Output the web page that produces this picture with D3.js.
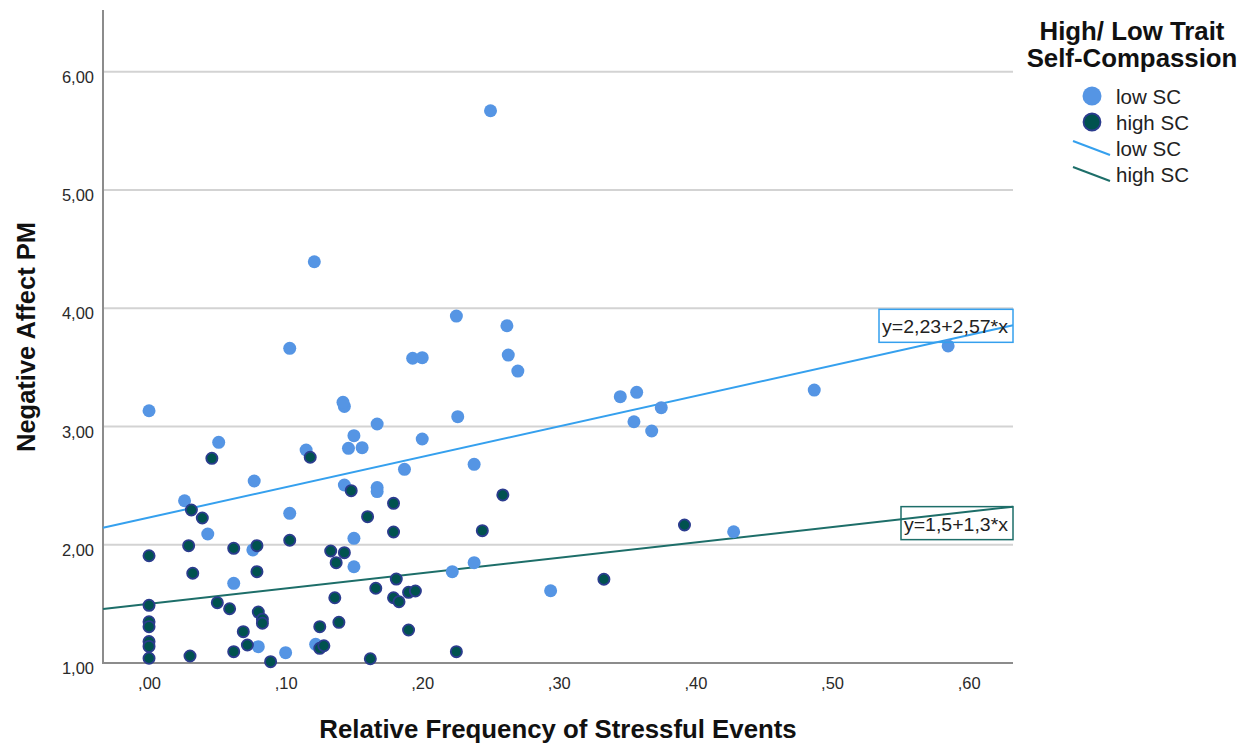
<!DOCTYPE html>
<html>
<head>
<meta charset="utf-8">
<script src="https://cdn.jsdelivr.net/npm/d3@7"></script>
<style>
  html, body { margin: 0; padding: 0; background: #ffffff; }
  svg { display: block; font-family: "Liberation Sans", Arial, sans-serif; }
</style>
</head>
<body>
<svg id="chart" width="1248" height="744"></svg>
<script>
// ---------------- data ----------------
const xTickValues = [0, 0.1, 0.2, 0.3, 0.4, 0.5, 0.6];
const xTickLabels = [",00", ",10", ",20", ",30", ",40", ",50", ",60"];
const yTickValues = [1, 2, 3, 4, 5, 6];
const yTickLabels = ["1,00", "2,00", "3,00", "4,00", "5,00", "6,00"];

const seriesNames = ["low SC", "high SC"];

// low SC: [relative frequency, negative affect]
const lowSC = [
  [0.000, 3.133], [0.250, 5.670], [0.121, 4.393], [0.103, 3.661], [0.193, 3.577],
  [0.200, 3.582], [0.225, 3.934], [0.262, 3.852], [0.263, 3.604], [0.270, 3.469],
  [0.143, 3.170], [0.142, 3.205], [0.167, 3.021], [0.226, 3.083], [0.150, 2.922],
  [0.146, 2.815], [0.156, 2.821], [0.200, 2.894], [0.115, 2.801], [0.051, 2.866],
  [0.187, 2.638], [0.238, 2.680], [0.077, 2.539], [0.143, 2.505], [0.167, 2.484],
  [0.167, 2.450], [0.026, 2.372], [0.103, 2.266], [0.043, 2.091], [0.150, 2.054],
  [0.076, 1.956], [0.062, 1.674], [0.150, 1.814], [0.238, 1.848], [0.222, 1.772],
  [0.294, 1.611], [0.080, 1.138], [0.100, 1.087], [0.122, 1.158], [0.345, 3.252],
  [0.357, 3.289], [0.375, 3.159], [0.355, 3.040], [0.368, 2.962], [0.428, 2.110],
  [0.487, 3.308], [0.585, 3.681]
];

// high SC
const highSC = [
  [0.000, 1.907], [0.000, 1.488], [0.000, 1.349], [0.000, 1.307], [0.000, 1.182],
  [0.000, 1.140], [0.000, 1.040], [0.030, 1.059], [0.046, 2.731], [0.031, 2.294],
  [0.039, 2.226], [0.029, 1.992], [0.062, 1.970], [0.079, 1.992], [0.103, 2.038],
  [0.032, 1.759], [0.079, 1.772], [0.050, 1.510], [0.059, 1.459], [0.080, 1.431],
  [0.083, 1.370], [0.083, 1.336], [0.069, 1.265], [0.072, 1.152], [0.062, 1.096],
  [0.089, 1.011], [0.118, 2.740], [0.148, 2.457], [0.179, 2.350], [0.259, 2.421],
  [0.160, 2.237], [0.179, 2.108], [0.244, 2.119], [0.133, 1.947], [0.143, 1.933],
  [0.137, 1.848], [0.181, 1.710], [0.166, 1.632], [0.179, 1.552], [0.183, 1.518],
  [0.190, 1.598], [0.195, 1.609], [0.136, 1.552], [0.139, 1.344], [0.125, 1.307],
  [0.190, 1.279], [0.125, 1.124], [0.128, 1.146], [0.162, 1.036], [0.225, 1.096],
  [0.392, 2.167], [0.333, 1.708]
];

// fit lines: intercept, slope
const fitIntercepts = [2.23, 1.5];
const fitSlopes = [2.57, 1.3];
const fitLabels = ["y=2,23+2,57*x", "y=1,5+1,3*x"];

// ---------------- chart ----------------
const svg = d3.select("#chart");
const plot = { left: 103, right: 1013, top: 10, bottom: 663 };

const x = d3.scaleLinear().domain([-0.0337, 0.6325]).range([plot.left, plot.right]);
const y = d3.scaleLinear().domain([1, 6.522]).range([plot.bottom, plot.top]);

const colLowPt = "#5595e4";
const colHighFill = "#00524f";
const colHighStroke = "#2b3c8e";
const colLowLine = "#35a0ee";
const colHighLine = "#1d6e69";

// gridlines
svg.append("g")
  .selectAll("line")
  .data(yTickValues.filter(v => v > 1))
  .join("line")
  .attr("x1", plot.left).attr("x2", plot.right)
  .attr("y1", d => y(d)).attr("y2", d => y(d))
  .attr("stroke", "#d3d3d3").attr("stroke-width", 2);

// y axis
const yAxis = d3.axisLeft(y).tickValues(yTickValues)
  .tickFormat((d, i) => yTickLabels[i]).tickSize(0).tickPadding(9);
const gy = svg.append("g").attr("transform", `translate(${plot.left},0)`).call(yAxis);
gy.select(".domain").remove();
gy.selectAll("text").attr("font-size", 16.5).attr("fill", "#2a2a2a").attr("dy", "0.65em")
  .attr("font-family", "'Liberation Sans', Arial, sans-serif");
svg.append("line").attr("x1", plot.left).attr("x2", plot.left)
  .attr("y1", plot.top).attr("y2", plot.bottom + 1)
  .attr("stroke", "#8c8c8c").attr("stroke-width", 2);

// x axis
const xAxis = d3.axisBottom(x).tickValues(xTickValues)
  .tickFormat((d, i) => xTickLabels[i]).tickSize(0).tickPadding(14);
const gx = svg.append("g").attr("transform", `translate(0,${plot.bottom})`).call(xAxis);
gx.select(".domain").remove();
gx.selectAll("text").attr("font-size", 16.5).attr("fill", "#2a2a2a")
  .attr("font-family", "'Liberation Sans', Arial, sans-serif");
svg.append("line").attr("x1", plot.left - 1).attr("x2", plot.right)
  .attr("y1", plot.bottom).attr("y2", plot.bottom)
  .attr("stroke", "#8c8c8c").attr("stroke-width", 2);

// axis titles
svg.append("text")
  .attr("x", 558).attr("y", 738)
  .attr("text-anchor", "middle").attr("font-size", 25.8).attr("font-weight", "bold")
  .attr("fill", "#111").text("Relative Frequency of Stressful Events");
svg.append("text")
  .attr("transform", `translate(35,${337}) rotate(-90)`)
  .attr("text-anchor", "middle").attr("font-size", 25.5).attr("font-weight", "bold")
  .attr("fill", "#111").text("Negative Affect PM");

// fit lines
const lineCols = [colLowLine, colHighLine];
const dom = x.domain();
fitIntercepts.forEach((a, i) => {
  const b = fitSlopes[i];
  svg.append("line")
    .attr("x1", x(dom[0])).attr("y1", y(a + b * dom[0]))
    .attr("x2", x(dom[1])).attr("y2", y(a + b * dom[1]))
    .attr("stroke", lineCols[i]).attr("stroke-width", 2);
});

// points
svg.append("g").selectAll("circle").data(lowSC).join("circle")
  .attr("cx", d => x(d[0])).attr("cy", d => y(d[1])).attr("r", 6.5)
  .attr("fill", colLowPt);
svg.append("g").selectAll("circle").data(highSC).join("circle")
  .attr("cx", d => x(d[0])).attr("cy", d => y(d[1])).attr("r", 5.6)
  .attr("fill", colHighFill).attr("stroke", colHighStroke).attr("stroke-width", 1.8);

// fit labels (boxes)
const endY = fitIntercepts.map((a, i) => y(a + fitSlopes[i] * dom[1]));
const boxW = [134, 112];
const boxTop = [endY[0] - 16, endY[1]];
fitLabels.forEach((t, i) => {
  const bx = plot.right - boxW[i];
  svg.append("rect")
    .attr("x", bx).attr("y", boxTop[i]).attr("width", boxW[i]).attr("height", 33)
    .attr("fill", "none").attr("stroke", lineCols[i]).attr("stroke-width", 1.5);
  svg.append("text")
    .attr("x", bx + 3).attr("y", boxTop[i] + 24)
    .attr("font-size", 18.5).attr("fill", "#222")
    .attr("textLength", boxW[i] - 8).attr("lengthAdjust", "spacingAndGlyphs")
    .text(t);
});

// legend
const lg = svg.append("g");
lg.append("text").attr("x", 1132).attr("y", 40).attr("text-anchor", "middle")
  .attr("font-size", 25.8).attr("font-weight", "bold").attr("fill", "#111").text("High/ Low Trait");
lg.append("text").attr("x", 1132).attr("y", 67).attr("text-anchor", "middle")
  .attr("font-size", 25.8).attr("font-weight", "bold").attr("fill", "#111").text("Self-Compassion");

const legY = [96, 122, 148, 174];
lg.append("circle").attr("cx", 1092).attr("cy", legY[0]).attr("r", 9.5).attr("fill", colLowPt);
lg.append("circle").attr("cx", 1092).attr("cy", legY[1]).attr("r", 8.5)
  .attr("fill", colHighFill).attr("stroke", colHighStroke).attr("stroke-width", 1.8);
lg.append("line").attr("x1", 1073).attr("y1", legY[2] - 7).attr("x2", 1110).attr("y2", legY[2] + 7)
  .attr("stroke", colLowLine).attr("stroke-width", 2);
lg.append("line").attr("x1", 1073).attr("y1", legY[3] - 7).attr("x2", 1110).attr("y2", legY[3] + 7)
  .attr("stroke", colHighLine).attr("stroke-width", 2);
const legLabels = [seriesNames[0], seriesNames[1], seriesNames[0], seriesNames[1]];
legLabels.forEach((t, i) => {
  lg.append("text").attr("x", 1116).attr("y", legY[i] + 7.5)
    .attr("font-size", 20.5).attr("fill", "#222").text(t);
});
</script>
</body>
</html>
